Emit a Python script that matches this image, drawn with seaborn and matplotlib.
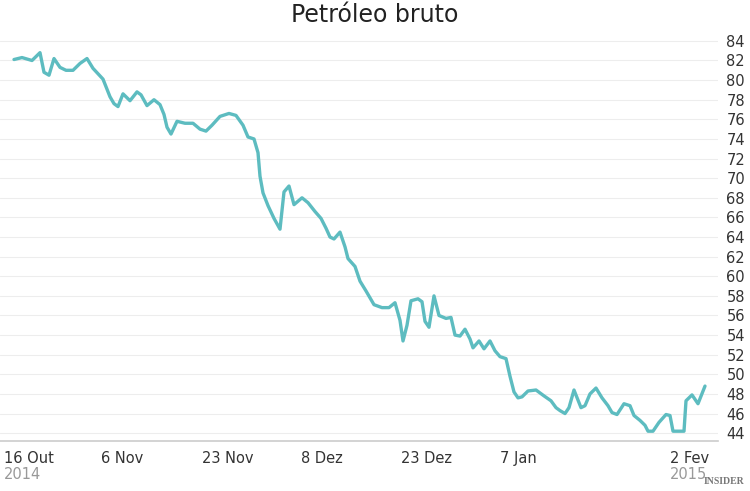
import matplotlib
matplotlib.use("Agg")
import matplotlib.pyplot as plt
import seaborn as sns
import pandas as pd

# x in trading-day scale units (same scale as tick positions)
xpos = [14,22,32,40,44,49,54,60,66,73,80,87,93,103,110,114,118,123,130,137,141,147,154,160,164,167,171,177,185,193,200,206,212,220,229,236,243,248,254,258,260,263,268,274,280,284,289,294,302,308,315,321,326,330,334,340,345,348,355,360,366,374,382,389,395,400,403,407,411,418,422,425,429,434,439,446,451,455,460,465,470,473,479,484,490,495,500,506,510,514,518,522,528,536,544,551,556,560,565,569,574,581,585,590,596,602,608,612,617,624,630,634,640,645,648,653,659,666,670,673,680,684,686,692,698,705]
price = [82.1,82.3,82.0,82.8,80.8,80.5,82.2,81.3,81.0,81.0,81.7,82.2,81.2,80.1,78.3,77.6,77.3,78.6,77.9,78.8,78.5,77.4,78.0,77.5,76.5,75.2,74.5,75.8,75.6,75.6,75.0,74.8,75.4,76.3,76.6,76.4,75.4,74.2,74.0,72.6,70.2,68.5,67.2,65.9,64.8,68.6,69.2,67.3,68.0,67.5,66.6,65.9,64.9,64.0,63.8,64.5,63.0,61.8,61.0,59.5,58.5,57.1,56.8,56.8,57.3,55.5,53.4,55.0,57.5,57.7,57.4,55.4,54.8,58.0,56.0,55.7,55.8,54.0,53.9,54.6,53.6,52.7,53.4,52.6,53.4,52.4,51.8,51.6,49.8,48.2,47.6,47.7,48.3,48.4,47.8,47.3,46.6,46.3,46.0,46.6,48.4,46.6,46.8,48.0,48.6,47.6,46.8,46.1,45.9,47.0,46.8,45.8,45.3,44.8,44.2,44.2,45.1,45.9,45.8,44.2,44.2,44.2,47.3,47.9,47.0,48.8]
tick_pos = [4,101,202,301,401,500,670]
tick_labels = ["16 Out", "6 Nov", "23 Nov", "8 Dez", "23 Dez", "7 Jan", "2 Fev"]
year_labels = {0: "2014", 6: "2015"}
yticks = list(range(44, 85, 2))

sns.set_theme(style="white")
fig = plt.figure(figsize=(7.5, 4.91), dpi=100)
ax = fig.add_axes([0, 1-441/491, 718/750, (441-35)/491])
df = pd.DataFrame({"x": xpos, "y": price})
sns.lineplot(data=df, x="x", y="y", ax=ax, color="#5dbcc0", linewidth=2.4)
ax.set_xlim(0, 718)
ax.set_ylim(43.2, 84.6)
ax.set_xlabel(""); ax.set_ylabel("")
ax.yaxis.tick_right()
ax.set_yticks(yticks)
ax.tick_params(axis="y", length=0, labelsize=10.5, labelcolor="#333333", pad=6)
for v in yticks:
    ax.axhline(v, color="#ededed", lw=0.8, zorder=0)
for s in ["top", "right", "left"]:
    ax.spines[s].set_visible(False)
ax.spines["bottom"].set_color("#cccccc")
ax.spines["bottom"].set_linewidth(1.2)
ax.set_xticks(tick_pos)
ax.set_xticklabels([])
ax.tick_params(axis="x", length=5, color="#cccccc", width=1, direction="out")
for i, (p, l) in enumerate(zip(tick_pos, tick_labels)):
    ax.text(p, -0.025, l, transform=ax.get_xaxis_transform(), ha="left", va="top",
            fontsize=10.5, color="#333333")
    if i in year_labels:
        ax.text(p, -0.065, year_labels[i], transform=ax.get_xaxis_transform(), ha="left", va="top",
                fontsize=10.5, color="#999999")
fig.text(0.5, 0.97, "Petróleo bruto", ha="center", va="center", fontsize=17, color="#222222")
fig.text(0.993, 0.01, "INSIDER", ha="right", va="bottom", fontsize=7, color="#777777",
         family="Liberation Serif", weight="bold")
fig.savefig("out.png", dpi=100)
